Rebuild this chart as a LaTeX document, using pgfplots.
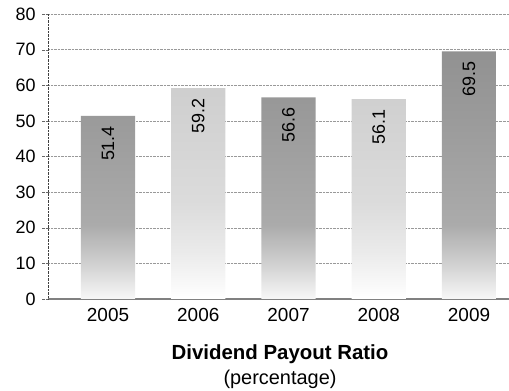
\documentclass[border=0pt]{standalone}
\usepackage{fontspec}
\setmainfont{Liberation Sans}
\usepackage{pgfplots}
\pgfplotsset{compat=1.18}
\pgfdeclareverticalshading{darkbar}{100bp}{color(0bp)=(black!3); color(25bp)=(black!3); color(32bp)=(black!18); color(40bp)=(black!33); color(60bp)=(black!39); color(75bp)=(black!43); color(100bp)=(black!43)}
\pgfdeclareverticalshading{lightbar}{100bp}{color(0bp)=(white); color(25bp)=(white); color(36bp)=(black!8); color(48bp)=(black!14); color(75bp)=(black!19); color(100bp)=(black!19)}
\begin{document}
\begin{tikzpicture}
\begin{axis}[
  name=ax,
  scale only axis, width=461bp, height=285bp,
  xmin=-0.665, xmax=4.443, ymin=0, ymax=80,
  ytick={0,10,...,80},
  xtick={0,1,2,3,4}, xticklabels={2005,2006,2007,2008,2009},
  /pgf/number format/assume math mode=true,
  yticklabel style={font=\fontsize{18}{21}\selectfont, xshift=-3bp},
  xticklabel style={font=\fontsize{19}{22}\selectfont, anchor=base, yshift=-17bp},
  axis x line*=bottom, axis y line*=left,
  x axis line style={black!50, line width=1.1pt},
  y axis line style={densely dotted, black!75},
  xtick style={draw=none},
  ytick style={densely dotted, black!60},
  tick align=outside, major tick length=6bp,
  ymajorgrids, grid style={densely dotted, black!40},
  ybar, bar width=0.6, bar shift=0pt,
  nodes near coords,
  every node near coord/.append style={rotate=90, anchor=east, black,
     font=\fontsize{18}{21}\selectfont, inner xsep=10bp, inner ysep=0pt},
]
\addplot[draw=none, shading=darkbar]
  coordinates {(0,51.4) (2,56.6) (4,69.5)};
\addplot[draw=none, shading=lightbar]
  coordinates {(1,59.2) (3,56.1)};
\end{axis}
\node[anchor=base, font=\fontsize{20.5}{24}\selectfont\bfseries] at ([shift={(1.5bp,-61bp)}]ax.south) {Dividend Payout Ratio};
\node[anchor=base, font=\fontsize{20}{24}\selectfont] at ([shift={(1.5bp,-86bp)}]ax.south) {(percentage)};
\pgfresetboundingbox
\useasboundingbox ([shift={(-48bp,-92bp)}]ax.south west) rectangle ([shift={(0bp,14bp)}]ax.north east);
\end{tikzpicture}
\end{document}
